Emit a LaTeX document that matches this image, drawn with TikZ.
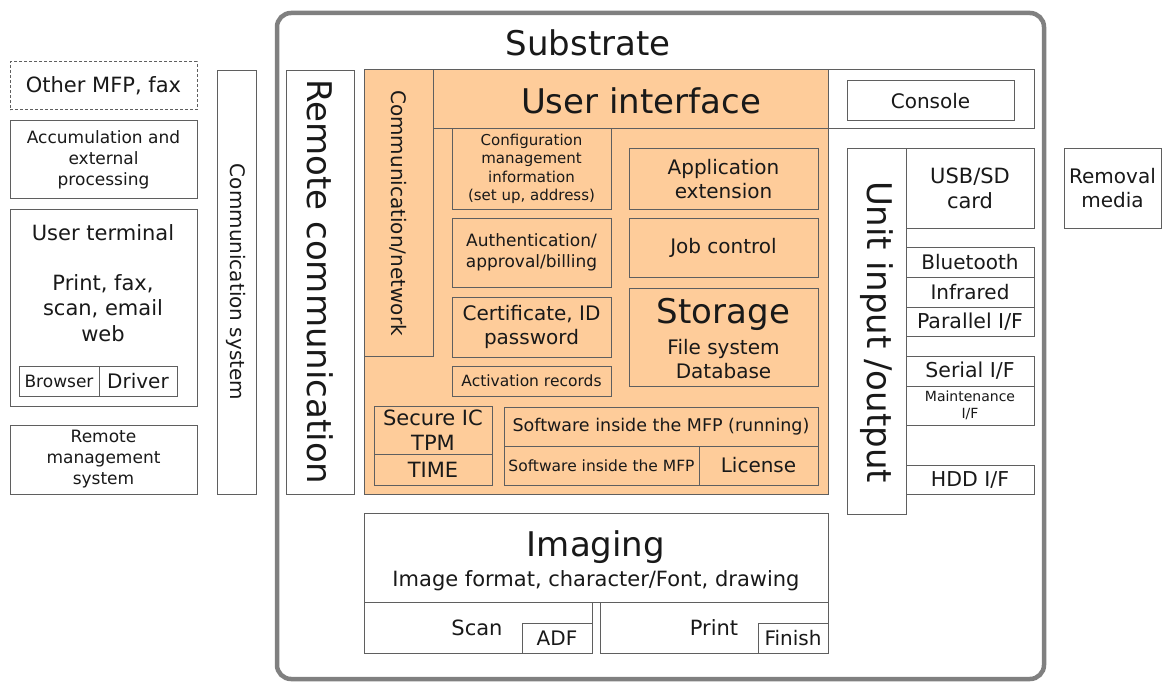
\documentclass[tikz,border=0pt]{standalone}
\usepackage{fontspec}
\setmainfont{DejaVu Sans}
\definecolor{orng}{RGB}{254,204,154}
\definecolor{linec}{RGB}{95,95,95}
\definecolor{outerc}{RGB}{128,128,128}
\definecolor{txt}{RGB}{25,25,25}
\newcommand\fs[1]{\fontsize{#1}{\fpeval{1.2*#1}}\selectfont}
\newcommand\bx[7][]{%
  \node[box,#1,minimum width={#5-#3},minimum height={#6-#4}] (#2) at ({(#3+#5)/2},{(#4+#6)/2}) {#7};}
\begin{document}
\begin{tikzpicture}[x=1pt,y=-1pt,
  box/.style={draw=linec,line width=1pt,inner sep=0pt,outer sep=0pt,align=center,text=txt,font=\fs{20}},
  txtn/.style={inner sep=0pt,outer sep=0pt,align=center,text=txt},
  vtxt/.style={txtn,rotate=-90}]
\fill[white] (0,0) rectangle (1162,682);
\useasboundingbox (0,0) rectangle (1162,682);

% substrate
\bx[draw=outerc,line width=4.5pt,rounded corners=14pt,fill=white]{sub}{277}{13}{1044}{679}{}
\node[txtn,font=\fs{34}] (subt) at (588,43) {Substrate};

% left column
\bx[dash pattern=on 3pt off 2pt,font=\fs{21}]{othermfp}{10}{62}{197}{110}{Other MFP, fax}
\bx[font=\fontsize{17}{21}\selectfont]{accum}{10}{121}{197}{198}{Accumulation and\\external\\processing}
\bx{uterm}{10}{209}{197}{406}{}
\node[txtn,font=\fs{21}] (utt) at (103,233) {User terminal};
\node[txtn,font=\fs{21}] (utp) at (103,308) {Print, fax,\\scan, email\\web};
\bx[font=\fs{17}]{browser}{19}{366}{99}{396}{Browser}
\bx[font=\fs{20}]{driver}{99}{366}{177}{396}{Driver}
\bx[font=\fontsize{17}{21}\selectfont]{rmgmt}{10}{425}{197}{494}{Remote\\management\\system}

\bx{commsys}{217}{71}{256}{494}{}
\node[vtxt,font=\fs{20}] (commsyst) at (236.5,282) {Communication system};
\bx{remcomm}{286}{71}{354}{494}{}
\node[vtxt,font=\fs{34}] (remcommt) at (320,282) {Remote communication};

% core (orange)
\bx[fill=orng]{core}{364}{70}{828}{494}{}
\bx{commnet}{364}{70}{433}{356}{}
\node[vtxt,font=\fs{20}] (commnett) at (398.5,213) {Communication/network};
\bx{ui}{433}{70}{828}{129}{}
\node[txtn,font=\fs{34}] (uit) at (641,101) {User interface};
\bx{conout}{828}{70}{1034}{129}{}
\bx[font=\fs{20}]{console}{847}{81}{1014}{121}{Console}

\bx[font=\fontsize{15}{18.5}\selectfont]{config}{452}{129}{611}{209}{Configuration\\management\\information\\(set up, address)}
\bx[font=\fs{17}]{auth}{452}{218}{611}{287}{Authentication/\\approval/billing}
\bx[font=\fs{20}]{cert}{452}{297}{611}{357}{Certificate, ID\\password}
\bx[font=\fs{15.5}]{activ}{452}{366}{611}{396}{Activation records}
\bx[font=\fs{20}]{appext}{629}{149}{818}{209}{Application\\extension}
\bx[font=\fs{20}]{job}{629}{218}{818}{277}{Job control}
\bx{storage}{629}{288}{818}{386}{}
\node[txtn,font=\fs{34}] (stt) at (723.5,314) {Storage};
\node[txtn,font=\fs{20}] (sts) at (723.5,359) {File system\\Database};
\bx[font=\fs{21}]{secic}{374}{406}{492}{454}{Secure IC\\TPM}
\bx[font=\fs{21}]{time}{374}{454}{492}{485}{TIME}
\bx[font=\fs{17.5}]{swrun}{504}{407}{818}{446}{Software inside the MFP (running)}
\bx[font=\fs{15.5}]{sw}{504}{446}{699}{485}{Software inside the MFP}
\bx[font=\fs{20}]{license}{699}{446}{818}{485}{License}

% unit input/output
\bx{unitio}{847}{149}{906}{514}{}
\node[vtxt,font=\fs{34}] (unitiot) at (876.5,332) {Unit input /output};
\bx[font=\fs{21}]{usb}{906}{149}{1034}{228}{USB/SD\\card}
\bx[font=\fs{20}]{bt}{906}{247}{1034}{277}{Bluetooth}
\bx[font=\fs{20}]{ir}{906}{277}{1034}{307}{Infrared}
\bx[font=\fs{20.5}]{par}{906}{307}{1034}{336}{Parallel I/F}
\bx[font=\fs{20.5}]{ser}{906}{356}{1034}{386}{Serial I/F}
\bx[font=\fontsize{14}{17}\selectfont]{maint}{906}{386}{1034}{425}{Maintenance\\I/F}
\bx[font=\fs{20.5}]{hdd}{906}{465}{1034}{494}{HDD I/F}
\bx[font=\fs{20}]{removal}{1064}{149}{1161}{228}{Removal\\media}

% imaging
\bx{imaging}{364}{513}{828}{602}{}
\node[txtn,font=\fs{34}] (imt) at (596,547) {Imaging};
\node[txtn,font=\fs{21}] (imf) at (596,581) {Image format, character/Font, drawing};
\bx{scan}{364}{602}{592}{653}{}
\node[txtn,font=\fs{21}] (scant) at (477,628) {Scan};
\bx[font=\fs{20}]{adf}{522}{623}{592}{653}{ADF}
\bx{print}{600}{602}{828}{653}{}
\node[txtn,font=\fs{21}] (printt) at (714,628) {Print};
\bx[font=\fs{20}]{finish}{758}{623}{828}{653}{Finish}
\end{tikzpicture}
\end{document}
